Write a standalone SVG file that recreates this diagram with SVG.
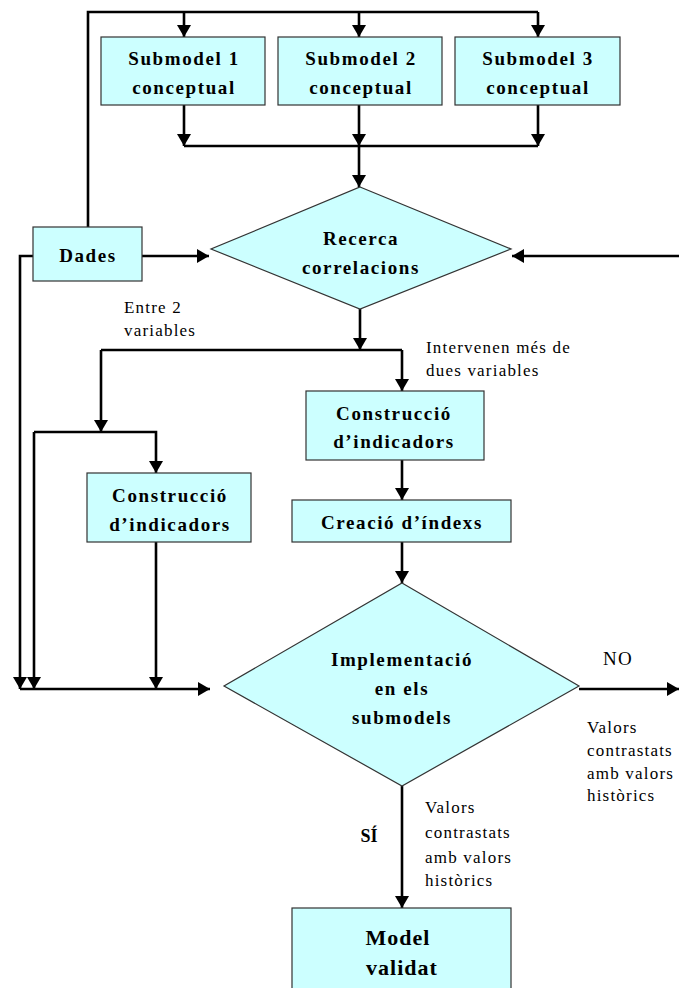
<svg xmlns="http://www.w3.org/2000/svg" width="679" height="988" viewBox="0 0 679 988">
<defs>
<marker id="ah" markerUnits="userSpaceOnUse" markerWidth="12" markerHeight="14" viewBox="0 0 12 14" refX="12" refY="7" orient="auto">
<path d="M0,0 L12,7 L0,14 Z" fill="#000"/>
</marker>
</defs>
<style>
.n{fill:#CCFFFF;stroke:#333;stroke-width:1.2}
.c{fill:none;stroke:#000;stroke-width:2.6}
.a{marker-end:url(#ah)}
.t{font-family:"Liberation Serif","Times New Roman",serif;font-weight:bold;font-size:19px;letter-spacing:1.6px;text-anchor:middle;fill:#000}
.l{font-family:"Liberation Serif","Times New Roman",serif;font-size:17px;letter-spacing:1.2px;fill:#000}
</style>
<rect width="679" height="988" fill="#fff"/>
<g id="connectors">
<path class="c" d="M88,227 V12 H538"/>
<path class="c a" d="M184,12 V37"/>
<path class="c a" d="M359,12 V37"/>
<path class="c a" d="M538,12 V37"/>
<path class="c a" d="M184,105 V146"/>
<path class="c a" d="M359,105 V146"/>
<path class="c a" d="M538,105 V146"/>
<path class="c" d="M184,146 H538"/>
<path class="c a" d="M359,146 V187"/>
<path class="c a" d="M142,256 H209"/>
<path class="c a" d="M679,256 H512"/>
<path class="c a" d="M33,256 H20 V689"/>
<path class="c a" d="M360,309 V350"/>
<path class="c" d="M101,350 H402"/>
<path class="c a" d="M101,350 V432"/>
<path class="c a" d="M402,350 V391"/>
<path class="c a" d="M34,432 H156 V473"/>
<path class="c a" d="M34,432 V689"/>
<path class="c a" d="M156,542 V689"/>
<path class="c a" d="M20,689 H210"/>
<path class="c a" d="M402,460 V500"/>
<path class="c a" d="M402,542 V583"/>
<path class="c a" d="M579,689 H679"/>
<path class="c a" d="M402,786 V908"/>
</g>
<g id="submodel1"><rect class="n" x="101" y="37" width="164" height="68"/><text class="t" x="184" y="65">Submodel 1</text><text class="t" x="184" y="94">conceptual</text></g>
<g id="submodel2"><rect class="n" x="278" y="37" width="164" height="68"/><text class="t" x="361" y="65">Submodel 2</text><text class="t" x="361" y="94">conceptual</text></g>
<g id="submodel3"><rect class="n" x="455" y="37" width="165" height="68"/><text class="t" x="538" y="65">Submodel 3</text><text class="t" x="538" y="94">conceptual</text></g>
<g id="dades"><rect class="n" x="33" y="227" width="109" height="54"/><text class="t" x="88" y="262">Dades</text></g>
<g id="recerca"><polygon class="n" points="360,187 511,249 360,309 211,249"/><text class="t" x="361" y="245">Recerca</text><text class="t" x="361" y="274">correlacions</text></g>
<g id="constr2"><rect class="n" x="306" y="391" width="178" height="69"/><text class="t" x="394" y="420">Construcció</text><text class="t" x="394" y="448">d’indicadors</text></g>
<g id="creacio"><rect class="n" x="292" y="500" width="219" height="42"/><text class="t" x="402" y="529">Creació d’índexs</text></g>
<g id="constr1"><rect class="n" x="87" y="473" width="164" height="69"/><text class="t" x="170" y="502">Construcció</text><text class="t" x="170" y="531">d’indicadors</text></g>
<g id="implementacio"><polygon class="n" points="402,583 579,686 402,786 224,686"/><text class="t" x="402" y="666">Implementació</text><text class="t" x="402" y="695">en els</text><text class="t" x="402" y="724">submodels</text></g>
<g id="model"><rect class="n" x="292" y="908" width="219" height="90"/><text class="t" x="398" y="945" style="font-size:22px;letter-spacing:1px">Model</text><text class="t" x="402" y="975" style="font-size:22px;letter-spacing:1px">validat</text></g>
<g id="labels">
<text class="l" x="124" y="313">Entre 2</text>
<text class="l" x="124" y="336">variables</text>
<text class="l" x="426" y="353">Intervenen més de</text>
<text class="l" x="426" y="376">dues variables</text>
<text class="l" x="603" y="665" style="font-size:19px">NO</text>
<text class="l" x="587" y="733">Valors</text>
<text class="l" x="587" y="756">contrastats</text>
<text class="l" x="587" y="779">amb valors</text>
<text class="l" x="587" y="801">històrics</text>
<text class="t" x="369" y="842" style="font-size:18px;letter-spacing:0">SÍ</text>
<text class="l" x="425" y="813">Valors</text>
<text class="l" x="425" y="838">contrastats</text>
<text class="l" x="425" y="863">amb valors</text>
<text class="l" x="425" y="886">històrics</text>
</g>
</svg>
